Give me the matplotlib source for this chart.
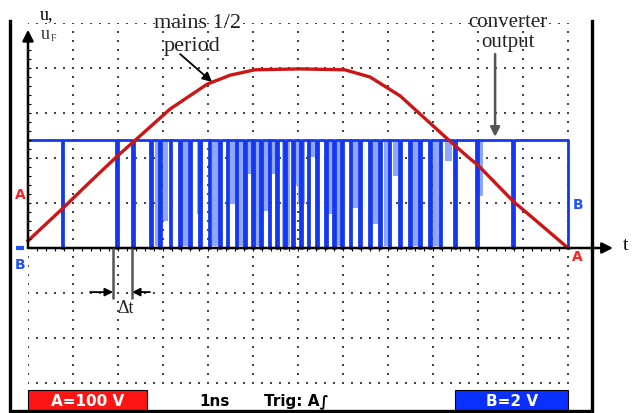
import matplotlib.pyplot as plt
import numpy as np

# screen is 12 x 8 divisions, zero line 3 divisions above the bottom
# mains half period (channel A), in divisions
mains_x = [0.0, 0.76, 1.38, 1.96, 2.49, 3.16, 3.98, 4.49, 5.04, 6.04, 7.04,
           7.6, 8.27, 8.93, 9.27, 9.78, 10.0, 10.78, 11.38, 12.0]
mains_y = [0.16, 0.87, 1.47, 2.02, 2.49, 3.09, 3.64, 3.84, 3.96, 3.98, 3.96,
           3.8, 3.38, 2.78, 2.47, 2.02, 1.84, 1.04, 0.53, 0.0]

# converter output (channel B): high level and the low pulses
conv_high = 2.4
dip_pos = [0.76, 1.98, 2.33, 2.73, 2.93, 3.16, 3.38, 3.6, 3.82, 4.04, 4.27,
           4.44, 4.64, 4.82, 5.0, 5.18, 5.36, 5.53, 5.71, 5.89, 6.07, 6.24,
           6.42, 6.62, 6.8, 6.98, 7.16, 7.38, 7.6, 7.82, 8.04, 8.27, 8.49,
           8.71, 8.93, 9.16, 9.49, 9.98, 10.78]
dip_width = 0.03

# faint (persistence) parts of the trace: left edge, width, lowest level
ghost_left = [2.82, 3.38, 3.76, 4.2, 4.49, 4.67, 4.89, 5.22, 5.42, 5.64, 6.0,
              6.27, 6.6, 6.82, 7.67, 8.56, 9.0, 9.27, 10.0, 3.0, 3.46, 4.1,
              5.05, 5.94, 7.2, 7.9, 8.1]
ghost_width = [0.11, 0.18, 0.13, 0.11, 0.15, 0.13, 0.11, 0.16, 0.11, 0.18,
               0.16, 0.17, 0.16, 0.16, 0.2, 0.15, 0.16, 0.15, 0.11, 0.1,
               0.1, 0.12, 0.1, 0.1, 0.14, 0.12, 0.12]
ghost_low = [0.04, 0.04, 0.76, 0.31, 0.98, 0.04, 1.64, 0.82, 1.64, 0.04,
             0.98, 2.02, 0.76, 0.04, 0.53, 0.04, 0.04, 1.93, 1.16, 0.6,
             1.2, 0.04, 0.04, 1.4, 0.9, 0.04, 1.6]

RED = '#cc1515'
BLUE = '#1438f0'
LIGHT = '#8ea6fb'
SERIF = 'Liberation Serif'

fig = plt.figure(figsize=(6.33, 4.14), dpi=100)
ax = fig.add_axes([28 / 633, 30 / 414, 540 / 633, 360 / 414])
ax.set_xlim(0, 12)
ax.set_ylim(-3, 5)
ax.axis('off')

# dotted graticule
step = np.arange(0, 12.01, 0.2)
for yy in range(-3, 6):
    ax.scatter(step, np.full(len(step), yy), s=1.6, marker='s', color='#444444',
               linewidths=0, zorder=1)
vstep = np.arange(-3, 5.01, 0.2)
for xx in range(0, 13):
    ax.scatter(np.full(len(vstep), xx), vstep, s=1.6, marker='s', color='#444444',
               linewidths=0, zorder=1)

# faint part of channel B
ax.bar(ghost_left, [conv_high - g for g in ghost_low], width=ghost_width,
       bottom=ghost_low, align='edge', color=LIGHT, linewidth=0, zorder=2)

# channel B trace
bx, by = [0.0], [conv_high]
for p in dip_pos:
    a, b = p - dip_width / 2, p + dip_width / 2
    bx += [a, a, b, b]
    by += [conv_high, 0, 0, conv_high]
bx += [12.0, 12.0]
by += [conv_high, 0]
ax.plot(bx, by, color=BLUE, lw=2.0, zorder=3, clip_on=False)

# channel A trace
ax.plot(mains_x, mains_y, color=RED, lw=2.4, zorder=4, clip_on=False)

# axes with arrows and small ticks
ax.annotate('', xy=(0, 4.85), xytext=(0, 0),
            arrowprops=dict(arrowstyle='-|>', color='black', lw=1.8,
                            mutation_scale=16, shrinkA=0, shrinkB=0), zorder=5)
ax.annotate('', xy=(13.0, 0), xytext=(0, 0),
            arrowprops=dict(arrowstyle='-|>', color='black', lw=1.8,
                            mutation_scale=16, shrinkA=0, shrinkB=0),
            annotation_clip=False, zorder=5)
tk = np.arange(0.2, 12.0, 0.2)
ax.vlines(tk, -0.07, 0, color='black', lw=0.8, zorder=5)
tky = np.arange(0.2, 4.6, 0.2)
ax.hlines(tky, 0, 0.07, color='black', lw=0.8, zorder=5)

# instrument frame
ax.plot([-0.4, -0.4, 12.53, 12.53], [5.04, -3.62, -3.62, 5.04], color='black',
        lw=2.4, clip_on=False, solid_joinstyle='miter')

# axis labels
ax.text(0.42, 5.2, 'u,', family=SERIF, fontsize=13, ha='center', va='center')
ax.text(0.38, 4.76, 'u', family=SERIF, fontsize=13, ha='center', va='center',
        color='#333333')
ax.text(0.56, 4.68, 'F', family=SERIF, fontsize=7, ha='center', va='center',
        color='#333333')
ax.text(13.27, 0.08, 't', family=SERIF, fontsize=14, ha='center', va='center',
        clip_on=False)

# channel markers
kw = dict(fontsize=10, fontweight='bold', ha='center', va='center', clip_on=False)
ax.text(-0.18, 1.2, 'A', color='#ff2020', **kw)
ax.text(-0.18, -0.36, 'B', color='#2050ff', **kw)
ax.plot([-0.27, -0.09], [0, 0], color='#2050ff', lw=3, clip_on=False,
        solid_capstyle='butt')
ax.text(12.22, 0.98, 'B', color='#2050ff', **kw)
ax.text(12.2, -0.18, 'A', color='#ff2020', **kw)

# annotations
ax.text(3.76, 5.0, 'mains 1/2', family=SERIF, fontsize=16, ha='center',
        va='center', color='#222222')
ax.text(3.65, 4.49, 'period', family=SERIF, fontsize=16, ha='center',
        va='center', color='#222222')
ax.annotate('', xy=(4.09, 3.69), xytext=(3.38, 4.31),
            arrowprops=dict(arrowstyle='-|>', color='black', lw=1.3,
                            mutation_scale=14, shrinkA=0, shrinkB=0))
ax.text(10.67, 5.04, 'converter', family=SERIF, fontsize=15, ha='center',
        va='center', color='#222222', clip_on=False)
ax.text(10.67, 4.58, 'output', family=SERIF, fontsize=15, ha='center',
        va='center', color='#222222', clip_on=False)
ax.annotate('', xy=(10.38, 2.47), xytext=(10.38, 4.31),
            arrowprops=dict(arrowstyle='-|>', color='#555555', lw=1.8,
                            mutation_scale=14, shrinkA=0, shrinkB=0))

# delta t marking
ax.vlines([1.89, 2.31], -1.13, 0, color='#555555', lw=1.8, zorder=5)
ax.annotate('', xy=(1.89, -0.98), xytext=(1.38, -0.98),
            arrowprops=dict(arrowstyle='-|>', color='black', lw=1.3,
                            mutation_scale=12, shrinkA=0, shrinkB=0))
ax.annotate('', xy=(2.31, -0.98), xytext=(2.71, -0.98),
            arrowprops=dict(arrowstyle='-|>', color='black', lw=1.3,
                            mutation_scale=12, shrinkA=0, shrinkB=0))
ax.text(2.16, -1.33, '\u0394t', family=SERIF, fontsize=13, ha='center',
        va='center', color='#222222')

# status bar
ax.add_patch(plt.Rectangle((0.0, -3.62), 2.64, 0.47, facecolor='#ff1414',
                           edgecolor='black', lw=0.8, clip_on=False))
ax.add_patch(plt.Rectangle((9.49, -3.62), 2.51, 0.47, facecolor='#0a30ff',
                           edgecolor='black', lw=0.8, clip_on=False))
bkw = dict(fontsize=11, fontweight='bold', ha='center', va='center', clip_on=False)
ax.text(1.32, -3.39, 'A=100 V', color='white', **bkw)
ax.text(10.75, -3.39, 'B=2 V', color='white', **bkw)
ax.text(4.15, -3.39, '1ns', color='black', **bkw)
ax.text(5.96, -3.39, 'Trig: A\u222b', color='black', **bkw)

fig.savefig('out.png', dpi=100)
